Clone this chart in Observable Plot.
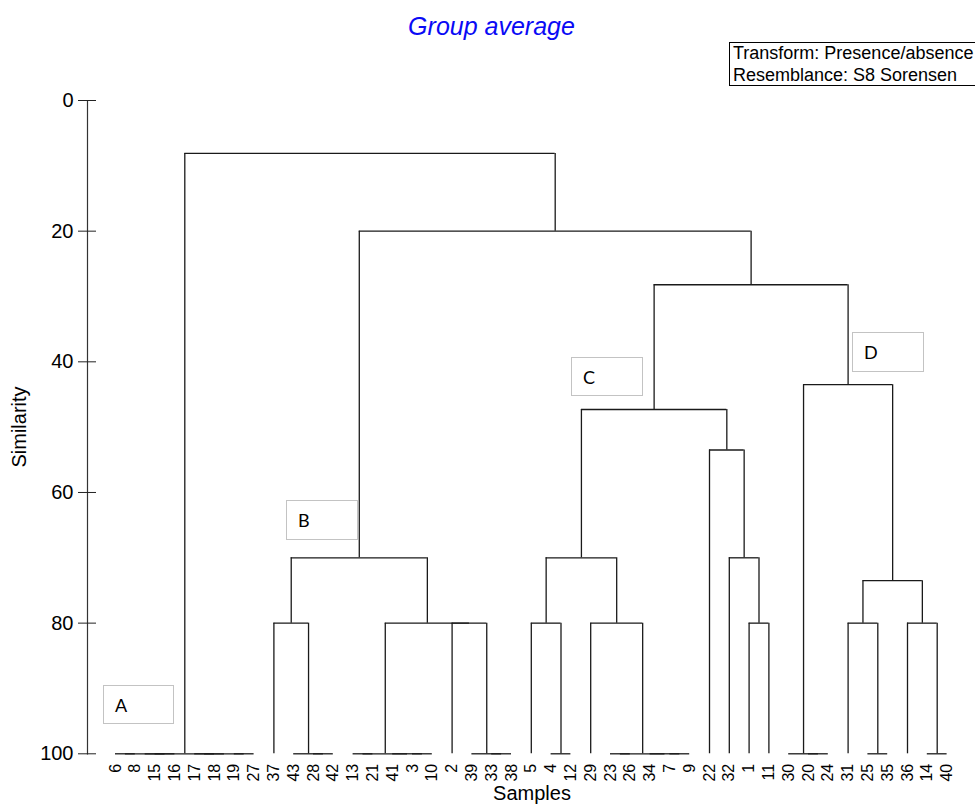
<!DOCTYPE html>
<html>
<head>
<meta charset="utf-8">
<script src="https://cdn.jsdelivr.net/npm/d3@7"></script>
<script src="https://cdn.jsdelivr.net/npm/@observablehq/plot@0.6"></script>
<style>
  html, body { margin: 0; padding: 0; background: #fff; overflow: hidden; }
  #wrap { position: relative; width: 975px; height: 804px; overflow: hidden; font-family: "Liberation Sans", Arial, sans-serif; }
  #chart { position: absolute; left: 0; top: 0; }
  .title { position: absolute; left: 4px; width: 975px; top: 14px; text-align: center; font-size: 25px; line-height: 25px; font-style: italic; color: #0a0af5; }
  .legend { position: absolute; left: 729px; top: 42px; width: 270px; height: 44px; box-sizing: border-box; border: 1.5px solid #000; padding-left: 3px; font-size: 18px; line-height: 23px; color: #000; }
  .legend div { margin-top: -1px; white-space: nowrap; }
  .grp { position: absolute; box-sizing: border-box; border: 1.5px solid #c3c3c3; font-family: Lato, "Open Sans", sans-serif; font-size: 18px; padding-left: 11px; display: flex; align-items: center; color: #000; }
  .ylab { position: absolute; left: 19px; top: 427px; transform: translate(-50%, -50%) rotate(-90deg); font-size: 20px; line-height: 20px; white-space: nowrap; }
  .xlab { position: absolute; left: 0; width: 1064px; top: 783px; text-align: center; font-size: 20px; line-height: 20px; }
</style>
</head>
<body>
<div id="wrap">
  <div id="chart"></div>
</div>
<script>
// ---- Data ----
// Each internal node: [similarity, left, right]; leaves are sample labels.
const groupA = [100, [100, [100, "6", "8"], [100, "15", "16"]], [100, [100, "17", "18"], [100, "19", "27"]]];
const groupB = [70,
  [80, "37", [100, "43", [100, "28", "42"]]],
  [80, [100, [100, "13", "21"], [100, "41", [100, "3", "10"]]], [80, "2", [100, "39", [100, "33", "38"]]]]
];
const groupC = [47.3,
  [70, [80, "5", [100, "4", "12"]], [80, "29", [100, [100, "23", "26"], [100, "34", [100, "7", "9"]]]]],
  [53.5, "22", [70, "32", [80, "1", "11"]]]
];
const groupD = [43.5,
  [100, "30", [100, "20", "24"]],
  [73.5, [80, "31", [100, "25", "35"]], [80, "36", [100, "14", "40"]]]
];
const upperSimilarities = [8.1, 20, 28.2]; // A vs rest, B vs (C+D), C vs D
const yTicks = [0, 20, 40, 60, 80, 100];
const groupLabels = ["A", "B", "C", "D"];
const titleText = "Group average";
const legendLines = ["Transform: Presence/absence", "Resemblance: S8 Sorensen"];
const yLabel = "Similarity";
const xLabel = "Samples";

const tree = [upperSimilarities[0], groupA, [upperSimilarities[1], groupB, [upperSimilarities[2], groupC, groupD]]];

// ---- Layout of the dendrogram from the tree ----
const leaves = [];
const hSegs = [];
const vSegs = [];
function layout(node) {
  if (typeof node === "string") {
    const i = leaves.length;
    leaves.push(node);
    return {x: i, s: 100};
  }
  const [s, l, r] = node;
  const a = layout(l), b = layout(r);
  hSegs.push({x1: a.x, x2: b.x, s});
  if (a.s !== s) vSegs.push({x: a.x, s1: a.s, s2: s});
  if (b.s !== s) vSegs.push({x: b.x, s1: b.s, s2: s});
  return {x: (a.x + b.x) / 2, s};
}
layout(tree);

const chart = Plot.plot({
  width: 975,
  height: 804,
  marginTop: 100,
  marginBottom: 50.7,
  marginLeft: 87,
  marginRight: 28.4,
  style: {fontFamily: "'Liberation Sans', Arial, sans-serif", background: "white", color: "#000"},
  x: {domain: [-1.414, leaves.length - 1]},
  y: {domain: [0, 100], reverse: true},
  marks: [
    Plot.frame({anchor: "left", stroke: "#333", strokeWidth: 1.2}),
    Plot.axisY({ticks: yTicks, tickSize: 18, dx: 9, tickPadding: 5, fontSize: 20, label: null, stroke: "#222"}),
    Plot.axisX({ticks: d3.range(leaves.length), tickFormat: i => leaves[i], tickSize: 0, tickRotate: -90, tickPadding: 10, fontSize: 16, label: null}),
    Plot.ruleY(hSegs, {x1: "x1", x2: "x2", y: "s", stroke: "#1a1a1a", strokeWidth: 1.3}),
    Plot.ruleX(vSegs, {x: "x", y1: "s1", y2: "s2", stroke: "#1a1a1a", strokeWidth: 1.3})
  ]
});
document.getElementById("chart").appendChild(chart);

// ---- Annotations (text and boxes) ----
const wrap = document.getElementById("wrap");
function addDiv(cls, html, style) {
  const d = document.createElement("div");
  d.className = cls;
  d.innerHTML = html;
  if (style) Object.assign(d.style, style);
  wrap.appendChild(d);
  return d;
}
addDiv("title", titleText);
addDiv("legend", legendLines.map(t => `<div>${t}</div>`).join(""));
addDiv("ylab", yLabel);
addDiv("xlab", xLabel);
const boxLayout = [
  {left: "103px", top: "685px", width: "71px", height: "39px"},
  {left: "286px", top: "500px", width: "72px", height: "40px"},
  {left: "571px", top: "357px", width: "72px", height: "39px"},
  {left: "852px", top: "332px", width: "72px", height: "40px"}
];
groupLabels.forEach((g, i) => addDiv("grp", g, boxLayout[i]));
</script>
</body>
</html>
